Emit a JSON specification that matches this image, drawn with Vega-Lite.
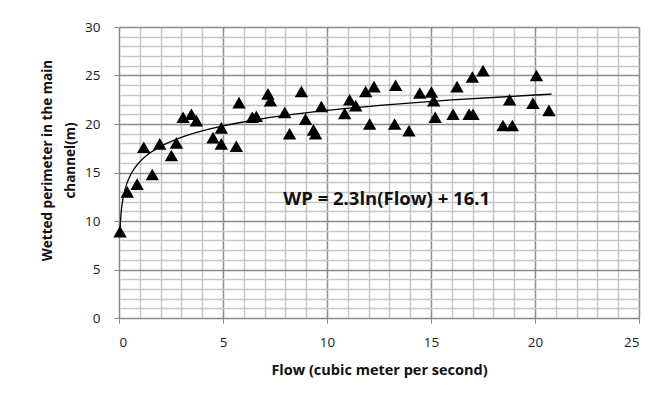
{
  "$schema": "https://vega.github.io/schema/vega-lite/v6.json",
  "width": 520,
  "height": 291,
  "autosize": {"type": "none"},
  "padding": {"left": 119, "top": 27, "right": 18, "bottom": 80},
  "background": "white",
  "config": {
    "view": {"stroke": null},
    "font": "Open Sans",
    "axis": {
      "labelFont": "Open Sans",
      "labelFontSize": 13.5,
      "labelColor": "#1a1a1a",
      "titleFont": "Open Sans",
      "titleFontWeight": "bold",
      "titleFontSize": 14.5,
      "titleColor": "#111111",
      "domainColor": "#8a8a8a",
      "domainWidth": 1,
      "tickColor": "#8a8a8a",
      "tickSize": 5,
      "gridWidth": 1.5
    }
  },
  "datasets": {
    "obs": [
      {"flow": 0.05, "wp": 8.9},
      {"flow": 0.4, "wp": 13.0},
      {"flow": 0.87, "wp": 13.8},
      {"flow": 1.6, "wp": 14.8},
      {"flow": 1.19, "wp": 17.6},
      {"flow": 1.96, "wp": 17.95},
      {"flow": 2.52, "wp": 16.75},
      {"flow": 2.76, "wp": 18.05},
      {"flow": 3.08, "wp": 20.7},
      {"flow": 3.48, "wp": 21.0},
      {"flow": 3.72, "wp": 20.35},
      {"flow": 4.52, "wp": 18.6},
      {"flow": 4.92, "wp": 19.6},
      {"flow": 4.92, "wp": 17.95},
      {"flow": 5.64, "wp": 17.7},
      {"flow": 5.77, "wp": 22.2},
      {"flow": 6.41, "wp": 20.7},
      {"flow": 6.6, "wp": 20.8},
      {"flow": 7.16, "wp": 23.1},
      {"flow": 7.28, "wp": 22.4},
      {"flow": 7.97, "wp": 21.2},
      {"flow": 8.2, "wp": 19.0},
      {"flow": 8.77, "wp": 23.35},
      {"flow": 8.97, "wp": 20.5},
      {"flow": 9.35, "wp": 19.4},
      {"flow": 9.45, "wp": 19.0},
      {"flow": 9.73, "wp": 21.8},
      {"flow": 10.85, "wp": 21.1},
      {"flow": 11.09, "wp": 22.5},
      {"flow": 11.38, "wp": 21.9},
      {"flow": 11.86, "wp": 23.35},
      {"flow": 12.26, "wp": 23.85},
      {"flow": 12.05, "wp": 20.0},
      {"flow": 13.3, "wp": 24.0},
      {"flow": 13.25, "wp": 20.0},
      {"flow": 13.94, "wp": 19.3},
      {"flow": 14.46, "wp": 23.2},
      {"flow": 15.02, "wp": 23.3},
      {"flow": 15.13, "wp": 22.4},
      {"flow": 15.2, "wp": 20.7},
      {"flow": 16.06, "wp": 21.0},
      {"flow": 16.25, "wp": 23.85},
      {"flow": 16.83, "wp": 21.0},
      {"flow": 17.02, "wp": 21.0},
      {"flow": 16.99, "wp": 24.85},
      {"flow": 17.5, "wp": 25.5},
      {"flow": 18.46, "wp": 19.85},
      {"flow": 18.91, "wp": 19.85},
      {"flow": 18.78, "wp": 22.5},
      {"flow": 20.07, "wp": 25.0},
      {"flow": 19.9, "wp": 22.15},
      {"flow": 20.67, "wp": 21.4}
    ],
    "trend": [
      {"flow": 0.05, "wp": 9.21},
      {"flow": 0.1, "wp": 10.8},
      {"flow": 0.2, "wp": 12.4},
      {"flow": 0.3, "wp": 13.33},
      {"flow": 0.5, "wp": 14.51},
      {"flow": 0.75, "wp": 15.44},
      {"flow": 1, "wp": 16.1},
      {"flow": 1.5, "wp": 17.03},
      {"flow": 2, "wp": 17.69},
      {"flow": 3, "wp": 18.63},
      {"flow": 4, "wp": 19.29},
      {"flow": 5, "wp": 19.8},
      {"flow": 7, "wp": 20.58},
      {"flow": 10, "wp": 21.4},
      {"flow": 13, "wp": 22.0},
      {"flow": 16, "wp": 22.48},
      {"flow": 20, "wp": 22.99},
      {"flow": 20.8, "wp": 23.08}
    ],
    "note": [
      {"flow": 12.87, "wp": 12.3, "label": "WP = 2.3ln(Flow) + 16.1"}
    ]
  },
  "encoding": {
    "x": {
      "field": "flow",
      "type": "quantitative",
      "scale": {"domain": [0, 25], "nice": false},
      "axis": {
        "title": "Flow (cubic meter per second)",
        "values": [0,1,2,3,4,5,6,7,8,9,10,11,12,13,14,15,16,17,18,19,20,21,22,23,24,25],
        "labelExpr": "datum.value % 5 === 0 ? datum.label : ''",
        "labelPadding": 12,
        "titlePadding": 15,
        "gridColor": {"condition": {"test": "datum.value % 5 === 0", "value": "#8c8c8c"}, "value": "#c6c6c6"},
        "tickOpacity": {"condition": {"test": "datum.value % 5 === 0", "value": 1}, "value": 0}
      }
    },
    "y": {
      "field": "wp",
      "type": "quantitative",
      "scale": {"domain": [0, 30], "nice": false},
      "axis": {
        "title": ["Wetted perimeter in the main", "channel(m)"],
        "titleFontSize": 13.5,
        "titleLineHeight": 23,
        "values": [0,1,2,3,4,5,6,7,8,9,10,11,12,13,14,15,16,17,18,19,20,21,22,23,24,25,26,27,28,29,30],
        "labelExpr": "datum.value % 5 === 0 ? datum.label : ''",
        "labelPadding": 14,
        "titlePadding": 7,
        "titleY": 133,
        "gridColor": {"condition": {"test": "datum.value % 5 === 0", "value": "#8c8c8c"}, "value": "#c6c6c6"},
        "tickOpacity": {"condition": {"test": "datum.value % 5 === 0", "value": 1}, "value": 0}
      }
    }
  },
  "layer": [
    {
      "data": {"name": "obs"},
      "mark": {"type": "point", "shape": "triangle-up", "filled": true, "color": "black", "size": 180, "opacity": 1}
    },
    {
      "data": {"name": "trend"},
      "mark": {"type": "line", "color": "black", "strokeWidth": 1.3, "interpolate": "monotone"}
    },
    {
      "data": {"name": "note"},
      "mark": {"type": "text", "font": "Open Sans", "fontWeight": "bold", "fontSize": 18.5, "color": "#111111", "align": "center", "baseline": "middle"},
      "encoding": {
        "text": {"field": "label"}
      }
    }
  ]
}
